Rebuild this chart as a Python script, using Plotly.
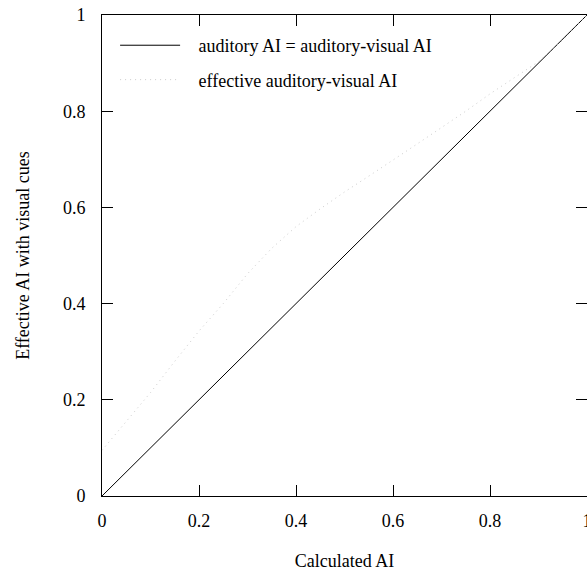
import plotly.graph_objects as go

ident_x = [0, 1]
ident_y = [0, 1]

eff_x = [0, 0.05, 0.1, 0.15, 0.2, 0.25, 0.3, 0.35, 0.4, 0.45, 0.5,
         0.55, 0.6, 0.65, 0.7, 0.75, 0.8, 0.85, 0.9, 0.95, 1.0]
eff_y = [0.095, 0.155, 0.215, 0.28, 0.343, 0.40, 0.462, 0.515, 0.56, 0.597, 0.632,
         0.665, 0.698, 0.732, 0.766, 0.80, 0.836, 0.870, 0.903, 0.948, 1.0]

tick_vals = [0, 0.2, 0.4, 0.6, 0.8, 1]
tick_text = ["0", "0.2", "0.4", "0.6", "0.8", "1"]

FONT = "Times New Roman"
PAD = "\u00a0\u00a0\u00a0"

fig = go.Figure()
fig.add_trace(go.Scatter(x=ident_x, y=ident_y, mode="lines",
                         name=PAD + "auditory AI = auditory-visual AI",
                         legendgroup="a",
                         line=dict(color="black", width=1)))
fig.add_trace(go.Scatter(x=eff_x, y=eff_y, mode="lines",
                         name=PAD + "effective auditory-visual AI",
                         legendgroup="b",
                         line=dict(color="#cccccc", width=1, dash="1px,4px")))

axis_common = dict(
    range=[0, 1], tickvals=tick_vals, ticktext=tick_text,
    ticks="inside", ticklen=11, tickwidth=1, tickcolor="black",
    showline=True, linecolor="black", linewidth=1, mirror="ticks",
    showgrid=False, zeroline=False, ticklabeloverflow="allow",
    automargin=False,
    tickfont=dict(family=FONT, size=18, color="black"),
)

fig.update_layout(
    width=587, height=571,
    margin=dict(l=102, r=0, t=15, b=75, autoexpand=False),
    paper_bgcolor="white", plot_bgcolor="white",
    font=dict(family=FONT, size=18, color="black"),
    xaxis=dict(**axis_common,
               title=dict(text="Calculated AI", font=dict(family=FONT, size=18), standoff=24),
               ticklabelstandoff=8),
    yaxis=dict(**axis_common,
               title=dict(text="Effective AI with visual cues", font=dict(family=FONT, size=18), standoff=28),
               ticklabelstandoff=12),
    showlegend=True,
    legend=dict(x=0.027, y=0.975, xanchor="left", yanchor="top",
                bgcolor="rgba(0,0,0,0)", borderwidth=0,
                itemwidth=60, tracegroupgap=8,
                font=dict(family=FONT, size=18, color="black")),
)

fig.write_html("out.html")
